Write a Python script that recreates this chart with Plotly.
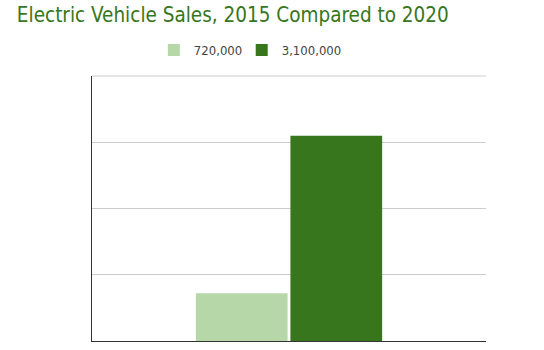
import plotly.graph_objects as go

categories = [""]
series_names = ["720,000", "3,100,000"]
series_values = [[720000], [3100000]]
colors = ["#b6d7a8", "#38761d"]
legend_ids = ["legend", "legend2"]

fig = go.Figure()
for name, vals, c, lg in zip(series_names, series_values, colors, legend_ids):
    fig.add_trace(go.Bar(x=categories, y=vals, name=name, legend=lg,
                         marker=dict(color=c, line=dict(width=0))))

fig.add_shape(type="line", xref="x domain", yref="y domain", x0=0, x1=1, y0=1, y1=1,
              line=dict(color="#cccccc", width=1))

legend_style = dict(orientation="h", xanchor="left", y=1.098, yanchor="middle",
                    font=dict(family="DejaVu Sans Condensed", size=13, color="#444444"),
                    itemwidth=30, bgcolor="rgba(0,0,0,0)")

fig.update_layout(
    width=544, height=350,
    margin=dict(l=92, r=58, t=76, b=9),
    paper_bgcolor="white", plot_bgcolor="white",
    title=dict(text="Electric Vehicle Sales, 2015 Compared to 2020", x=0.031, xanchor="left",
               xref="container", yref="container", y=0.957, yanchor="middle",
               font=dict(family="DejaVu Sans Condensed", size=20.5, color="#38761d")),
    barmode="group", bargap=0.52, bargroupgap=0.03,
    showlegend=True,
    legend=dict(x=0.157, **legend_style),
    legend2=dict(x=0.380, **legend_style),
    xaxis=dict(showticklabels=False, showline=True, linecolor="#333333", linewidth=1,
               showgrid=False, ticks=""),
    yaxis=dict(range=[0, 4000000], dtick=1000000, showticklabels=False, showgrid=True,
               gridcolor="#cccccc", showline=True, linecolor="#333333", linewidth=1,
               zeroline=False, ticks=""),
)
fig.write_html("out.html")
